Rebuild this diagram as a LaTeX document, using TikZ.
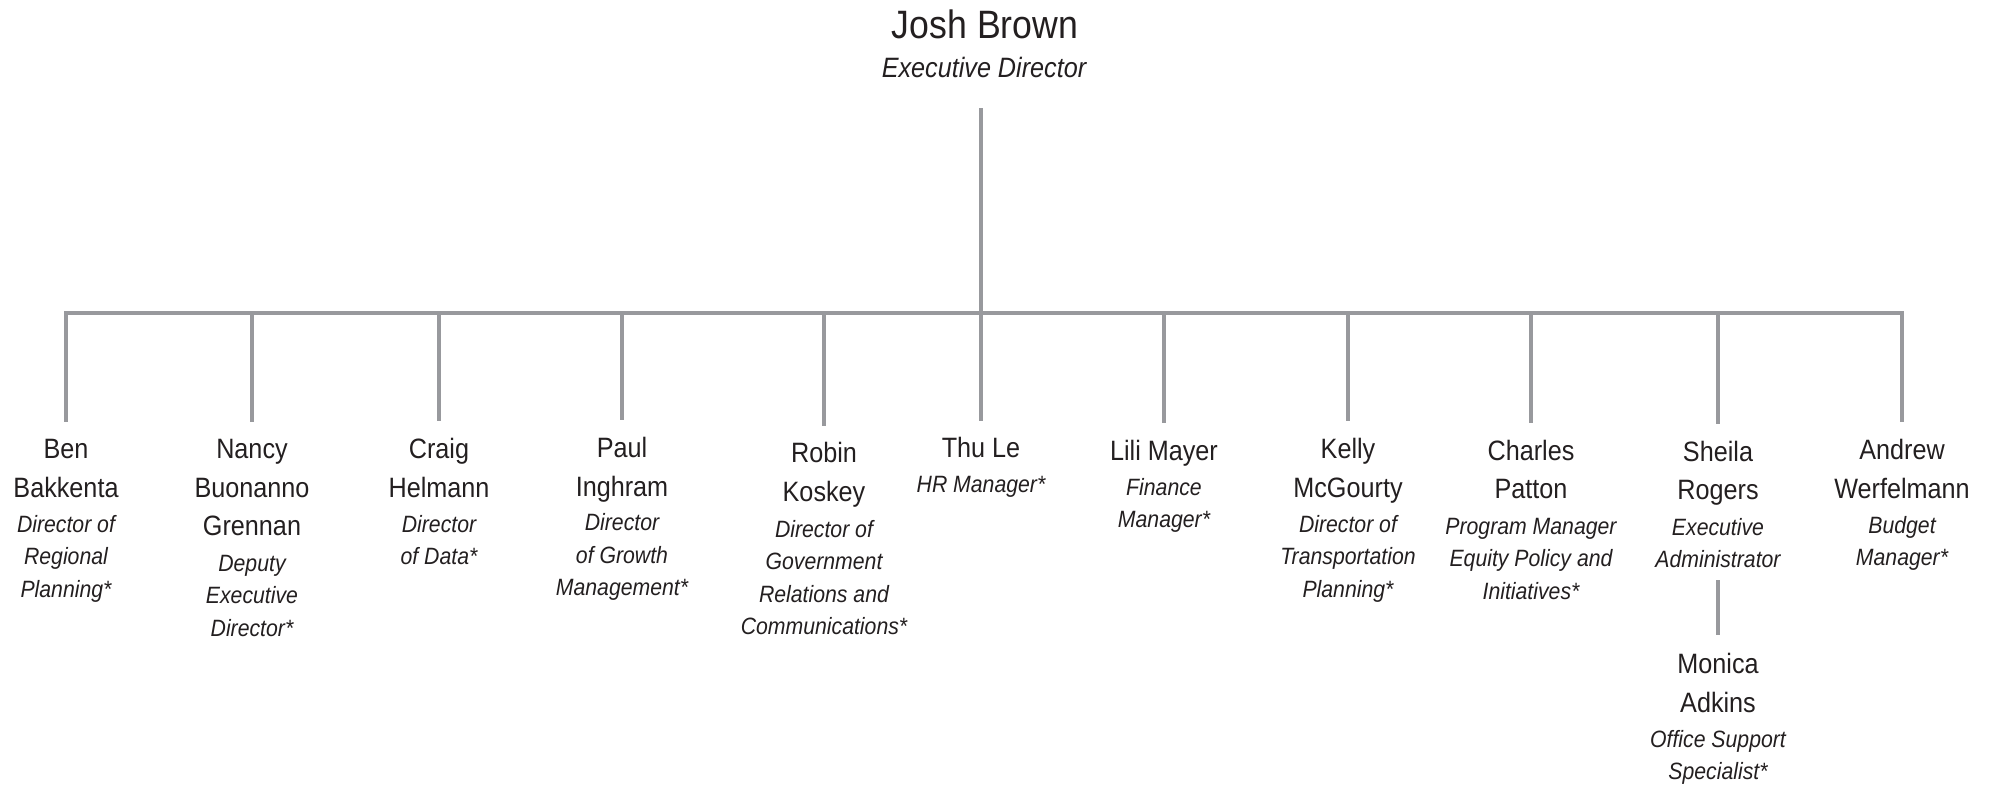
\documentclass[tikz,border=0pt]{standalone}
\usepackage{fontspec}
\setmainfont{Liberation Sans}[FakeStretch=0.9]
\usepackage{tikz}
\usetikzlibrary{calc}
\definecolor{lineGray}{RGB}{152,153,157}
\definecolor{inkBlack}{RGB}{35,31,32}
\newcommand{\busy}{313}
\newcommand{\namegap}{39}
\newcommand{\rolegap}{32.5}
\tikzset{
  x=0.5pt,y=-0.5pt,
  person/.style={anchor=base,align=center,inner sep=0,text=inkBlack,font=\fontsize{14}{19.5}\selectfont},
  role/.style={anchor=base,align=center,inner sep=0,text=inkBlack,font=\itshape\fontsize{11.8}{16.25}\selectfont},
  link/.style={draw=lineGray,line width=1.75pt,line cap=rect},
}
\begin{document}
\begin{tikzpicture}
  \useasboundingbox (0,0) rectangle (1994,786);
  \node[person,font=\fontsize{19.8}{24}\selectfont] (jb) at (985,39) {Josh Brown};
  \node[role,font=\itshape\fontsize{14}{17}\selectfont] (jbt) at (984,78) {Executive Director};
  \foreach \x/\y/\n/\m/\who/\job [count=\i] in {
    66/458/2/3/{Ben\\Bakkenta}/{Director of\\Regional\\Planning*},
    252/458/3/3/{Nancy\\Buonanno\\Grennan}/{Deputy\\Executive\\Director*},
    439/458/2/2/{Craig\\Helmann}/{Director\\of Data*},
    622/457/2/3/{Paul\\Inghram}/{Director\\of Growth\\Management*},
    824/463/2/4/{Robin\\Koskey}/{Director of\\Government\\Relations and\\Communications*},
    981/458/1/1/{Thu Le}/{HR Manager*},
    1164/460/1/2/{Lili Mayer}/{Finance\\Manager*},
    1348/458/2/3/{Kelly\\McGourty}/{Director of\\Transportation\\Planning*},
    1531/460/2/3/{Charles\\Patton}/{Program Manager\\Equity Policy and\\Initiatives*},
    1718/461/2/2/{Sheila\\Rogers}/{Executive\\Administrator},
    1902/459/2/2/{Andrew\\Werfelmann}/{Budget\\Manager*}}{
    \coordinate (top\i) at (\x,\busy);
    \node[person] (p\i) at ($(\x,\y)+(0,{(\n-1)*\namegap})$) {\who};
    \node[role] (r\i) at ($(p\i.base)+(0,{35+(\m-1)*\rolegap})$) {\job};
    \draw[link] (top\i) -- ($(p\i.north)+(0,-18)$);
  }
  \node[person] (p12) at (1718,712) {Monica\\Adkins};
  \node[role] (r12) at ($(p12.base)+(0,{35+\rolegap})$) {Office Support\\Specialist*};
  \coordinate (jbfoot) at ($(jbt.south)+(0,31)$);
  \draw[link] (top1) -- (top11);
  \draw[link] (top6 |- jbfoot) -- (top6);
  \draw[link] ($(r10.south)+(0,14)$) -- ($(p12.north)+(0,-19)$);
\end{tikzpicture}
\end{document}
